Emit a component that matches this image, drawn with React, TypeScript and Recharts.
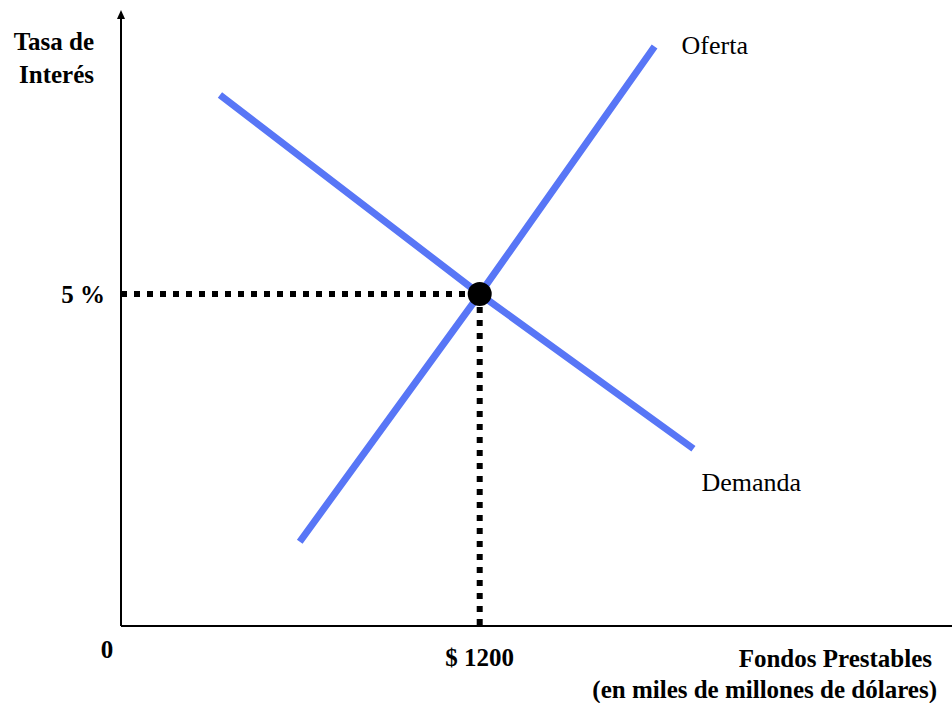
import React from 'react';
import {
  ComposedChart,
  Line,
  XAxis,
  YAxis,
  ReferenceDot,
  LabelList,
  Label,
} from 'recharts';

// fondos prestables (miles de millones) vs tasa de interés (%)
const supply = [
  { x: 598, y: 1.27 },
  { x: 1200, y: 5 },
  { x: 1785, y: 8.73, name: 'Oferta' },
];

const demand = [
  { x: 331, y: 8.0 },
  { x: 1200, y: 5 },
  { x: 1915, y: 2.67, name: 'Demanda' },
];

const eqQuantity = 1200;
const eqRate = 5;

const guideH = [
  { x: 0, y: eqRate },
  { x: eqQuantity, y: eqRate },
];
const guideV = [
  { x: eqQuantity, y: eqRate },
  { x: eqQuantity, y: 0 },
];

const xTicks = [eqQuantity];
const yTicks = [eqRate];

const FONT = '"Liberation Serif", "Times New Roman", serif';
const BLUE = '#5876f6';

const App: React.FC = () => {
  // labels drawn next to the end of each curve
  const curveLabel = (dx: number, dy: number) => (props: any) => {
    const { x, y, value } = props;
    if (!value) return null;
    return (
      <text x={x + dx} y={y + dy} fontFamily={FONT} fontSize={26} fill="#000">
        {value}
      </text>
    );
  };

  return (
    <div style={{ position: 'absolute', left: 0, top: 0 }}>
      <ComposedChart
        width={952}
        height={703}
        margin={{ top: 12, right: 0, left: 61, bottom: 37 }}
      >
        <XAxis
          type="number"
          dataKey="x"
          domain={[0, 2780]}
          ticks={xTicks}
          height={40}
          tickLine={false}
          tickSize={0}
          tickMargin={22}
          tickFormatter={(v: number) => `$ ${v}`}
          tick={{ fontFamily: FONT, fontSize: 25, fontWeight: 'bold', fill: '#000' }}
          axisLine={{ stroke: '#000', strokeWidth: 2 }}
        >
          <Label
            content={(props: any) => {
              const vb = props.viewBox || { x: 121, y: 626, width: 831 };
              return (
                <g fontFamily={FONT} fontSize={25} fontWeight="bold" fill="#000">
                  <text x={vb.x - 14} y={vb.y + 32} textAnchor="middle">0</text>
                  <text x={vb.x + vb.width - 20} y={vb.y + 41} textAnchor="end">
                    Fondos Prestables
                  </text>
                  <text x={vb.x + vb.width - 15} y={vb.y + 72} textAnchor="end">
                    (en miles de millones de dólares)
                  </text>
                </g>
              );
            }}
          />
        </XAxis>
        <YAxis
          type="number"
          dataKey="y"
          domain={[0, 9.25]}
          ticks={yTicks}
          width={60}
          tickLine={false}
          tickSize={0}
          tickMargin={16}
          tickFormatter={(v: number) => `${v} %`}
          tick={{ fontFamily: FONT, fontSize: 25, fontWeight: 'bold', fill: '#000' }}
          axisLine={{ stroke: '#000', strokeWidth: 2 }}
        >
          <Label
            content={(props: any) => {
              const vb = props.viewBox || { x: 61, y: 12, width: 60 };
              const ax = vb.x + vb.width;
              const ay = vb.y;
              return (
                <g>
                  <path
                    d={`M${ax} ${ay - 2} L${ax - 4} ${ay + 7} L${ax + 4} ${ay + 7} Z`}
                    fill="#000"
                  />
                  <g fontFamily={FONT} fontSize={25} fontWeight="bold" fill="#000">
                    <text x={ax - 27} y={ay + 38} textAnchor="end">Tasa de</text>
                    <text x={ax - 27} y={ay + 71} textAnchor="end">Interés</text>
                  </g>
                </g>
              );
            }}
          />
        </YAxis>

        <Line
          data={guideH}
          dataKey="y"
          stroke="#000"
          strokeWidth={6}
          strokeDasharray="6 7"
          dot={false}
          activeDot={false}
          isAnimationActive={false}
        />
        <Line
          data={guideV}
          dataKey="y"
          stroke="#000"
          strokeWidth={6}
          strokeDasharray="6 7"
          dot={false}
          activeDot={false}
          isAnimationActive={false}
        />
        <Line
          data={supply}
          dataKey="y"
          stroke={BLUE}
          strokeWidth={7}
          dot={false}
          activeDot={false}
          isAnimationActive={false}
        >
          <LabelList dataKey="name" content={curveLabel(27, 7)} />
        </Line>
        <Line
          data={demand}
          dataKey="y"
          stroke={BLUE}
          strokeWidth={7}
          dot={false}
          activeDot={false}
          isAnimationActive={false}
        >
          <LabelList dataKey="name" content={curveLabel(8, 42)} />
        </Line>
        <ReferenceDot x={eqQuantity} y={eqRate} r={12} fill="#000" stroke="none" />
      </ComposedChart>
    </div>
  );
};

export default App;
